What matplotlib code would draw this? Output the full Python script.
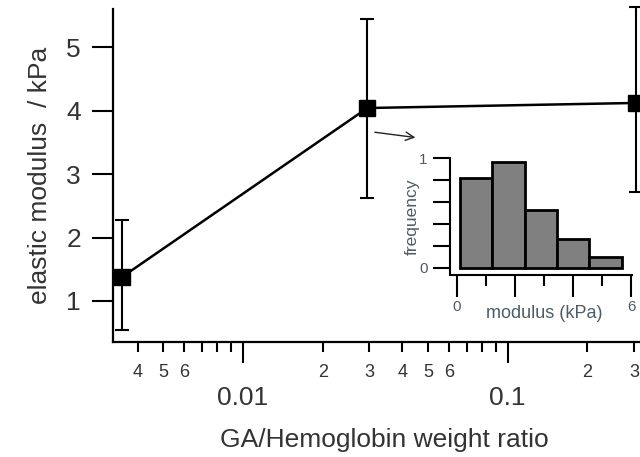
import numpy as np
import matplotlib.pyplot as plt
from matplotlib.ticker import LogLocator, FuncFormatter, FixedLocator

plt.rcParams['font.family'] = ['Liberation Sans', 'DejaVu Sans']

# main data: GA/Hb ratio vs elastic modulus
ratio = [0.0035, 0.0295, 0.305]
modulus = [1.38, 4.04, 4.12]
err_low = [0.54, 2.63, 2.71]
err_high = [2.28, 5.44, 5.63]

# inset histogram
hist_edges = [0.1, 1.21, 2.34, 3.45, 4.55, 5.69]
hist_freq = [0.82, 0.97, 0.53, 0.26, 0.10]

txt = '#333333'
W, H = 640, 457

fig = plt.figure(figsize=(6.4, 4.57), dpi=100)
ax = fig.add_axes([113 / W, 1 - 342 / H, 542 / W, 333 / H])

yerr = [np.array(modulus) - np.array(err_low), np.array(err_high) - np.array(modulus)]
ax.errorbar(ratio, modulus, yerr=yerr, fmt='s-', color='k', ms=11, lw=1.8,
            elinewidth=1.5, capsize=5, capthick=1.5, clip_on=False)

ax.set_xscale('log')
ax.set_xlim(0.00323, 0.36)
ax.set_ylim(0.354, 5.6)

for s in ['top', 'right']:
    ax.spines[s].set_visible(False)
for s in ['left', 'bottom']:
    ax.spines[s].set_linewidth(1.6)

ax.xaxis.set_major_locator(FixedLocator([0.01, 0.1]))
ax.xaxis.set_major_formatter(FuncFormatter(lambda v, p: '%g' % v))
ax.xaxis.set_minor_locator(LogLocator(base=10, subs=np.arange(2, 10)))


def minor_label(v, pos):
    d = int(round(v / 10 ** np.floor(np.log10(v) + 1e-9)))
    return str(d) if d <= 6 else ''


ax.xaxis.set_minor_formatter(FuncFormatter(minor_label))
ax.set_yticks([1, 2, 3, 4, 5])

ax.tick_params(axis='x', which='major', length=15, width=1.5, labelsize=19, pad=17, labelcolor=txt)
ax.tick_params(axis='x', which='minor', length=7.5, width=1.5, labelsize=13, pad=8, labelcolor=txt)
ax.tick_params(axis='y', length=15, width=1.5, labelsize=19, pad=8, labelcolor=txt)

ax.set_xlabel('GA/Hemoglobin weight ratio', fontsize=19, labelpad=13, color=txt)
ax.set_ylabel('elastic modulus  / kPa', fontsize=19, labelpad=10, color=txt)

ax.annotate('', xy=(0.563, 0.613), xytext=(0.478, 0.631), xycoords='axes fraction',
            arrowprops=dict(arrowstyle='->', lw=1, color='#222222', mutation_scale=15))

# inset histogram
inset_txt = '#4d5d66'
ax_in = fig.add_axes([450 / W, 1 - 275 / H, 182 / W, 116.7 / H])
ax_in.bar(hist_edges[:-1], hist_freq, width=np.diff(hist_edges), align='edge',
          color='#808080', edgecolor='k', lw=2, clip_on=False)
ax_in.set_xlim(-0.24, 6.03)
ax_in.set_ylim(-0.064, 1.0)
ax_in.patch.set_alpha(0)
for s in ['top', 'right']:
    ax_in.spines[s].set_visible(False)
for s in ['left', 'bottom']:
    ax_in.spines[s].set_linewidth(1.5)

ax_in.set_yticks([0, 0.2, 0.4, 0.6, 0.8, 1.0])
ax_in.set_yticklabels(['0', '', '', '', '', '1'])
ax_in.set_xticks([0, 2, 4, 6])
ax_in.set_xticklabels(['0', '', '', '6'])
ax_in.set_xticks([1, 3, 5], minor=True)
ax_in.tick_params(axis='y', length=12, width=1.5, labelsize=11, pad=4, labelcolor=inset_txt)
ax_in.tick_params(axis='x', which='major', length=16, width=1.5, labelsize=11, pad=2, labelcolor=inset_txt)
ax_in.tick_params(axis='x', which='minor', length=8, width=1.5)
ax_in.set_ylabel('frequency', fontsize=12.5, labelpad=0, color=inset_txt)
ax_in.text(0.52, -0.33, 'modulus (kPa)', transform=ax_in.transAxes, ha='center', va='center',
           fontsize=13, color=inset_txt)

fig.savefig('out.png', dpi=100)
